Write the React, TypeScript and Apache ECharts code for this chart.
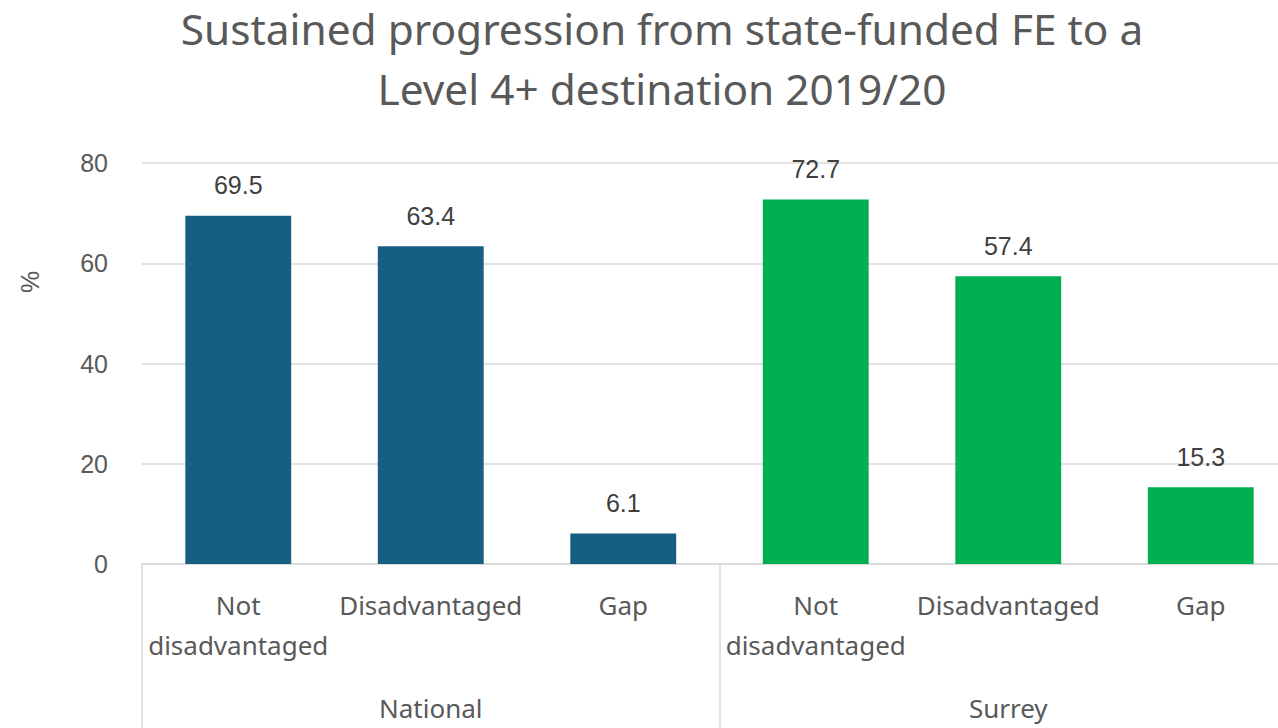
import React, { useEffect, useRef } from "react";
import * as echarts from "echarts";

const categories = ["Not\ndisadvantaged", "Disadvantaged", "Gap", "Not\ndisadvantaged", "Disadvantaged", "Gap"];
const groups = ["National", "Surrey"];
const groupOfBar = [0, 0, 0, 1, 1, 1];
const values = [69.5, 63.4, 6.1, 72.7, 57.4, 15.3];
const groupColors = ["#175F82", "#00B050"];
const yTicks = { min: 0, max: 80, interval: 20 };
const titleText = "Sustained progression from state-funded FE to a\nLevel 4+ destination 2019/20";

export default function App() {
  const ref = useRef<HTMLDivElement>(null);
  useEffect(() => {
    if (!ref.current) return;
    const chart = echarts.init(ref.current, undefined, { renderer: "svg" });
    const grid = "#D9D9D9";
    chart.setOption({
      animation: false,
      title: {
        text: titleText,
        left: 657,
        top: -7,
        textAlign: "center",
        textStyle: {
          fontFamily: "Noto Sans",
          fontWeight: "normal",
          fontSize: 42.4,
          lineHeight: 60,
          color: "#595959",
        },
      },
      grid: { left: 142, top: 163, width: 1155, bottom: 164, containLabel: false },
      xAxis: [
        {
          type: "category",
          data: categories,
          position: "bottom",
          axisLine: { show: true, lineStyle: { color: grid, width: 1.5 } },
          axisTick: { show: false },
          axisLabel: {
            interval: 0,
            margin: 21,
            fontFamily: "Noto Sans",
            fontSize: 26,
            lineHeight: 40,
            color: "#595959",
          },
        },
        {
          type: "category",
          data: groups,
          position: "bottom",
          axisLine: { show: false },
          axisTick: { show: true, length: 170, interval: 0, lineStyle: { color: grid, width: 1.5 } },
          axisLabel: {
            interval: 0,
            margin: 129,
            fontFamily: "Noto Sans",
            fontSize: 26,
            lineHeight: 30,
            color: "#595959",
          },
        },
      ],
      yAxis: {
        type: "value",
        min: yTicks.min,
        max: yTicks.max,
        interval: yTicks.interval,
        axisLine: { show: false },
        axisTick: { show: false },
        splitLine: { lineStyle: { color: grid, width: 1.5 } },
        axisLabel: {
          margin: 34,
          fontFamily: "Liberation Sans",
          fontSize: 25,
          color: "#595959",
        },
      },
      graphic: [
        {
          type: "text",
          x: 30,
          y: 282,
          rotation: Math.PI / 2,
          style: {
            text: "%",
            fontFamily: "Liberation Sans",
            fontSize: 25,
            fill: "#595959",
            align: "center",
            verticalAlign: "middle",
          },
        },
      ],
      series: [
        {
          type: "bar",
          xAxisIndex: 0,
          barCategoryGap: "45%",
          data: values.map((v, i) => ({ value: v, itemStyle: { color: groupColors[groupOfBar[i]] } })),
          label: {
            show: true,
            position: "top",
            distance: 18,
            fontFamily: "Liberation Sans",
            fontSize: 25,
            color: "#404040",
            formatter: (p: any) => p.value.toFixed(1),
          },
        },
      ],
    });
    return () => chart.dispose();
  }, []);
  return (
    <div
      style={{ position: "fixed", left: 0, top: 0, width: 1278, height: 728, overflow: "hidden", background: "#fff" }}
    >
      <div ref={ref} style={{ position: "absolute", left: 0, top: 0, width: 1300, height: 728 }} />
    </div>
  );
}
